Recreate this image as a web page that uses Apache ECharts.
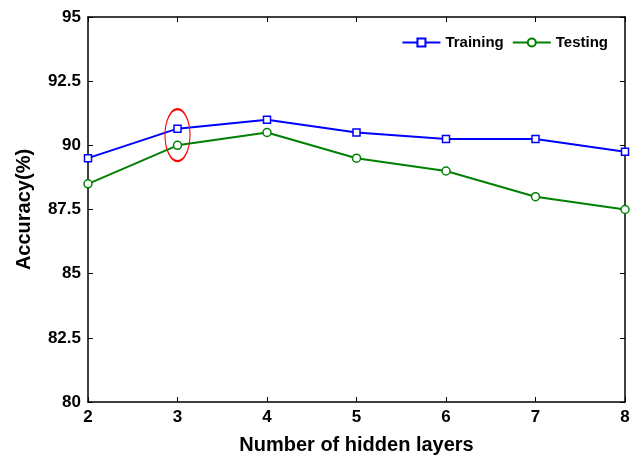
<!DOCTYPE html>
<html><head><meta charset="utf-8">
<script src="https://cdn.jsdelivr.net/npm/echarts@6/dist/echarts.min.js"></script>
<style>html,body{margin:0;padding:0;background:#fff}#c{width:630px;height:456px}</style>
</head><body><div id="c"></div>
<script>
const layers = [2, 3, 4, 5, 6, 7, 8];
const training = [89.5, 90.65, 91.0, 90.5, 90.25, 90.25, 89.75];
const testing = [88.5, 90.0, 90.5, 89.5, 89.0, 88.0, 87.5];
const yTicks = ['80', '82.5', '85', '87.5', '90', '92.5', '95'];

const font = 'Liberation Sans, Arial, sans-serif';
const chart = echarts.init(document.getElementById('c'));
const axisCommon = {
  axisLine: {show: true, onZero: false, lineStyle: {color: '#000', width: 1.5}},
  axisTick: {show: true, inside: true, length: 5, lineStyle: {color: '#000', width: 1}},
  splitLine: {show: false}
};
chart.setOption({
  animation: false,
  grid: {left: 88, right: 5, top: 17, bottom: 54, containLabel: false, outerBoundsMode: 'none'},
  legend: {
    right: 17, top: 30, itemWidth: 38, itemHeight: 10, itemGap: 8,
    textStyle: {fontFamily: font, fontWeight: 'bold', fontSize: 15, color: '#000'},
    data: ['Training', 'Testing']
  },
  xAxis: [
    Object.assign({type: 'value', min: 2, max: 8, interval: 1, position: 'bottom',
      name: 'Number of hidden layers', nameLocation: 'middle', nameGap: 33,
      nameTextStyle: {fontFamily: font, fontWeight: 'bold', fontSize: 20, color: '#000'},
      axisLabel: {fontFamily: font, fontWeight: 'bold', fontSize: 17, color: '#000', margin: 7}}, axisCommon),
    Object.assign({type: 'value', min: 2, max: 8, interval: 1, position: 'top',
      axisLabel: {show: false}}, axisCommon)
  ],
  yAxis: [
    Object.assign({type: 'value', min: 80, max: 95, interval: 2.5, position: 'left',
      name: 'Accuracy(%)', nameLocation: 'middle', nameGap: 54, nameRotate: 90,
      nameTextStyle: {fontFamily: font, fontWeight: 'bold', fontSize: 20, color: '#000'},
      axisLabel: {fontFamily: font, fontWeight: 'bold', fontSize: 17, color: '#000', margin: 7,
        formatter: v => { const s = String(+v.toFixed(1)); return yTicks.includes(s) ? s : ''; }}}, axisCommon),
    Object.assign({type: 'value', min: 80, max: 95, interval: 2.5, position: 'right',
      axisLabel: {show: false}}, axisCommon)
  ],
  series: [
    {
      name: 'Training', type: 'line',
      data: layers.map((x, i) => [x, training[i]]),
      symbol: 'rect', symbolSize: 7, showAllSymbol: true,
      lineStyle: {color: '#0000ff', width: 2},
      itemStyle: {color: '#fff', borderColor: '#0000ff', borderWidth: 1.5},
      markPoint: {
        symbol: 'circle', symbolSize: [25, 52], silent: true,
        label: {show: false},
        itemStyle: {color: 'rgba(0,0,0,0)', borderColor: '#ff0000', borderWidth: 1.5},
        data: [{coord: [3, 90.4]}]
      }
    },
    {
      name: 'Testing', type: 'line',
      data: layers.map((x, i) => [x, testing[i]]),
      symbol: 'circle', symbolSize: 8, showAllSymbol: true,
      lineStyle: {color: '#008000', width: 2},
      itemStyle: {color: '#fff', borderColor: '#008000', borderWidth: 1.5}
    }
  ]
});
</script></body></html>
